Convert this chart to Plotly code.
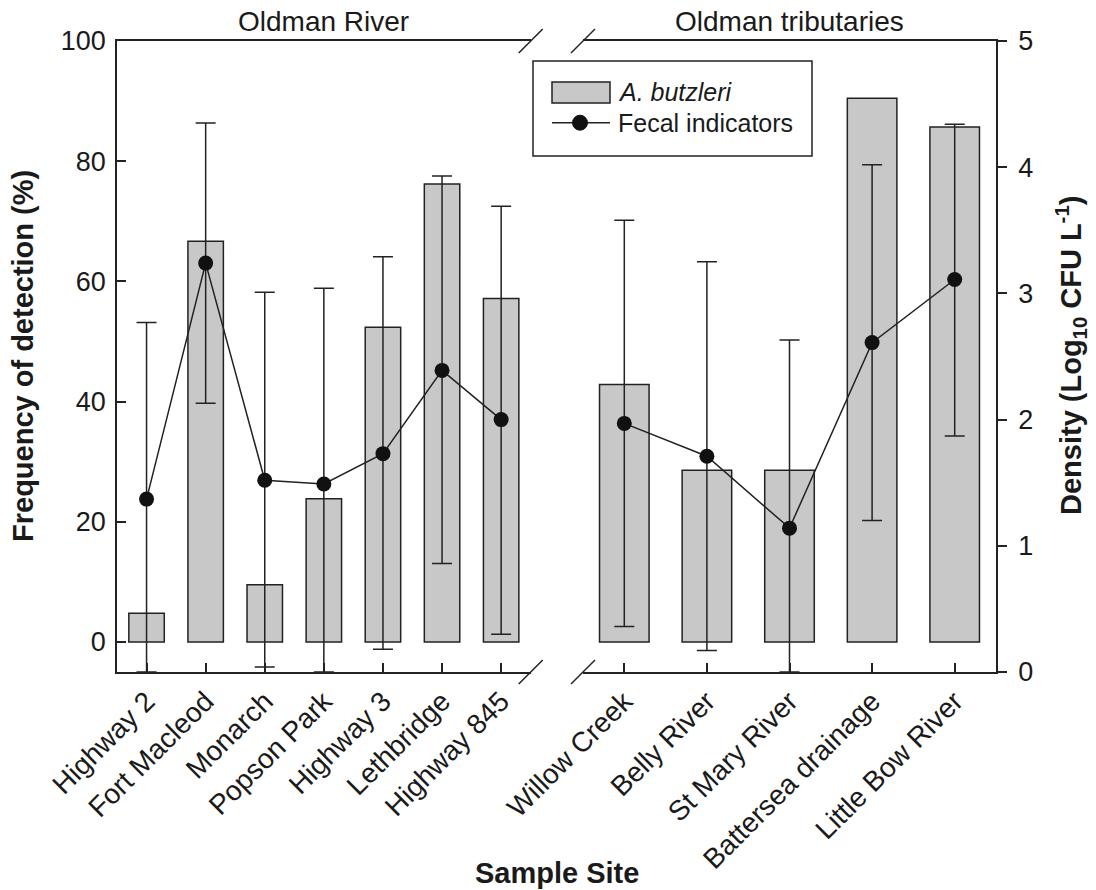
import plotly.graph_objects as go

# Oldman River main-stem sites
sites_main = ["Highway 2", "Fort Macleod", "Monarch", "Popson Park",
              "Highway 3", "Lethbridge", "Highway 845"]
detect_main = [4.76, 66.67, 9.52, 23.81, 52.38, 76.19, 57.14]      # % detection
fecal_main = [1.37, 3.24, 1.52, 1.49, 1.73, 2.39, 2.00]           # log10 CFU/L
fecal_main_hi = [2.77, 4.35, 3.01, 3.04, 3.29, 3.93, 3.69]
fecal_main_lo = [0.00, 2.13, 0.04, 0.00, 0.18, 0.86, 0.30]

# Tributary sites
sites_trib = ["Willow Creek", "Belly River", "St Mary River",
              "Battersea drainage", "Little Bow River"]
detect_trib = [42.86, 28.57, 28.57, 90.48, 85.71]
fecal_trib = [1.97, 1.71, 1.14, 2.61, 3.11]
fecal_trib_hi = [3.58, 3.25, 2.63, 4.02, 4.34]
fecal_trib_lo = [0.36, 0.17, 0.00, 1.20, 1.87]

left_ticks = [0, 20, 40, 60, 80, 100]
right_ticks = [0, 1, 2, 3, 4, 5]

FONT = "Liberation Sans, Arial, sans-serif"
INK = "#1a1a1a"
BAR_FILL = "#c8c8c8"

# plot-area geometry (pixels) used for paper-coordinate decorations
L, R, T, B = 117, 996, 41, 672
W, H = R - L, B - T
split_left, split_right = 530.7, 583.0


def px(x):
    return (x - L) / W


def py(y):
    return (B - y) / H


fig = go.Figure()

bar_style = dict(color=BAR_FILL, line=dict(color="#222", width=1.5))
fig.add_trace(go.Bar(x=list(range(len(sites_main))), y=detect_main, width=0.6,
                     marker=bar_style, xaxis="x", yaxis="y", showlegend=False))
fig.add_trace(go.Bar(x=list(range(len(sites_trib))), y=detect_trib, width=0.6,
                     marker=bar_style, xaxis="x2", yaxis="y", showlegend=False))


def fecal_trace(vals, hi, lo, xa):
    return go.Scatter(
        x=list(range(len(vals))), y=vals, mode="lines+markers",
        line=dict(color="#222", width=1.5),
        marker=dict(color="#111", size=15),
        error_y=dict(type="data", symmetric=False,
                     array=[h - v for h, v in zip(hi, vals)],
                     arrayminus=[v - l for v, l in zip(vals, lo)],
                     color="#222", thickness=1.5, width=10),
        xaxis=xa, yaxis="y2", showlegend=False)


fig.add_trace(fecal_trace(fecal_main, fecal_main_hi, fecal_main_lo, "x"))
fig.add_trace(fecal_trace(fecal_trib, fecal_trib_hi, fecal_trib_lo, "x2"))

axis_common = dict(showline=True, linecolor="#222", linewidth=1.5,
                   showgrid=False, zeroline=False, tickcolor="#222",
                   tickwidth=1.5, ticklen=9)
num_font = dict(family=FONT, size=27, color=INK)
cat_font = dict(family=FONT, size=28, color=INK)

fig.update_layout(
    width=1096, height=890, autosize=False,
    margin=dict(l=L, r=1096 - R, t=T, b=890 - B),
    paper_bgcolor="white", plot_bgcolor="white",
    bargap=0.4, showlegend=False,
    xaxis=dict(domain=[0, px(split_left)], range=[-0.5, 6.5],
               tickvals=list(range(len(sites_main))), ticktext=sites_main,
               tickangle=-45, ticks="inside", mirror=True, anchor="y",
               tickfont=cat_font, **axis_common),
    xaxis2=dict(domain=[px(split_right), 1], range=[-0.5, 4.5],
                tickvals=list(range(len(sites_trib))), ticktext=sites_trib,
                tickangle=-45, ticks="inside", mirror=True, anchor="y",
                tickfont=cat_font, **axis_common),
    yaxis=dict(domain=[0, 1], range=[-5, 100], tickvals=left_ticks,
               ticks="inside", anchor="x", ticklabelstandoff=4,
               tickfont=num_font, **axis_common),
    yaxis2=dict(domain=[0, 1], range=[0, 5], tickvals=right_ticks,
                ticks="outside", side="right", overlaying="y", anchor="x2",
                ticklabelstandoff=6, tickfont=num_font, **axis_common),
)

shapes = []
# axis break marks on top and bottom frame lines
for cx in (split_left, split_right):
    for cy in (T, B):
        shapes.append(dict(type="line", xref="paper", yref="paper",
                           x0=px(cx - 12), y0=py(cy + 12),
                           x1=px(cx + 12), y1=py(cy - 12),
                           line=dict(color="#222", width=1.5)))

# legend box
shapes.append(dict(type="rect", xref="paper", yref="paper",
                   x0=px(533), y0=py(156), x1=px(812), y1=py(61),
                   line=dict(color="#222", width=1.5), fillcolor="white",
                   layer="above"))
shapes.append(dict(type="rect", xref="paper", yref="paper",
                   x0=px(552), y0=py(103), x1=px(610), y1=py(82),
                   line=dict(color="#222", width=1.5), fillcolor=BAR_FILL))
shapes.append(dict(type="line", xref="paper", yref="paper",
                   x0=px(552), y0=py(122.7), x1=px(610), y1=py(122.7),
                   line=dict(color="#222", width=1.5)))
shapes.append(dict(type="circle", xref="paper", yref="paper",
                   x0=px(572.5), y0=py(130.2), x1=px(587.5), y1=py(115.2),
                   line=dict(color="#111", width=1), fillcolor="#111"))
fig.update_layout(shapes=shapes)

ann = []


def text(x, y, s, size=25, **kw):
    d = dict(x=px(x), y=py(y), xref="paper", yref="paper", text=s,
             showarrow=False, font=dict(family=FONT, size=size, color=INK),
             xanchor="center", yanchor="middle")
    d.update(kw)
    ann.append(d)


text(616, 92, "<i>A. butzleri</i>", xanchor="left")
text(616, 123, "Fecal indicators", xanchor="left")
text((L + split_left) / 2, 22, "Oldman River", size=28)
text((split_right + R) / 2, 22, "Oldman tributaries", size=28)
text((L + R) / 2, 873, "<b>Sample Site</b>", size=29)
text(23, 356, "<b>Frequency of detection (%)</b>", size=29, textangle=-90)
text(1071, 356, "<b>Density (Log<sub>10</sub> CFU L<sup>-1</sup>)</b>", size=29,
     textangle=-90)
fig.update_layout(annotations=ann)

fig.write_html("out.html")
